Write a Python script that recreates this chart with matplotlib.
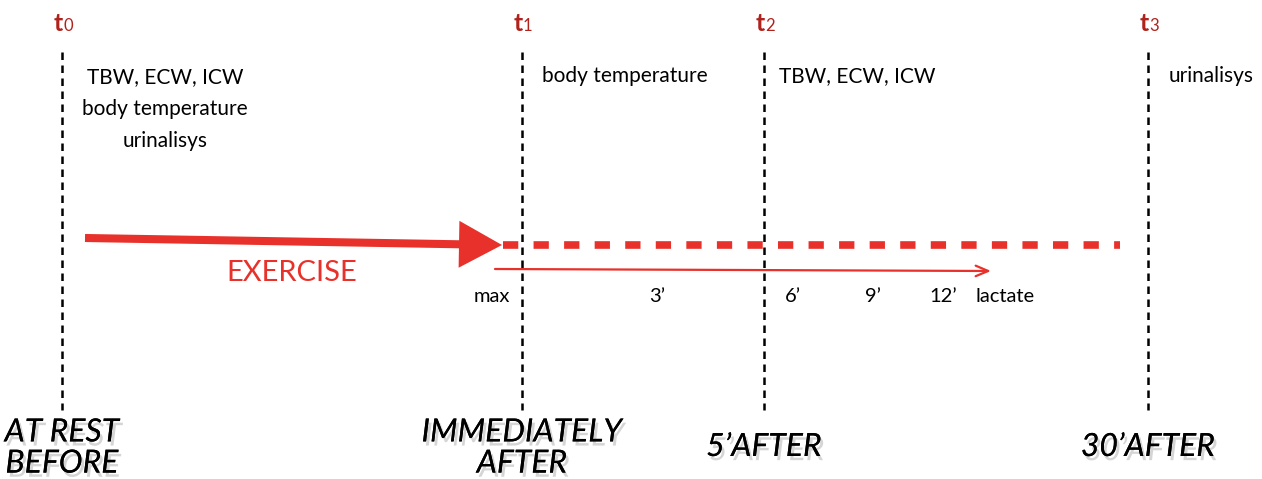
import matplotlib
matplotlib.use("Agg")
import matplotlib.pyplot as plt
import matplotlib.patheffects as pe
from matplotlib.patches import FancyArrowPatch

# ---- data ----
time_points = ["0", "1", "2", "3"]
time_x = [62, 522, 764, 1148]
bottom_labels = ["AT REST\nBEFORE", "IMMEDIATELY\nAFTER", "5\u2019AFTER", "30\u2019AFTER"]
measures = [["TBW, ECW, ICW", "body temperature", "urinalisys"],
            ["body temperature"],
            ["TBW, ECW, ICW"],
            ["urinalisys"]]
lactate_labels = ["max", "3\u2019", "6\u2019", "9\u2019", "12\u2019", "lactate"]
lactate_x = [492, 657, 793, 873, 943, 1005]

RED = "#e8312a"
DARKRED = "#b0231c"
FONT = ["Lato", "DejaVu Sans"]

fig = plt.figure(figsize=(12.62, 4.79), dpi=100)
ax = fig.add_axes([0, 0, 1, 1])
ax.set_xlim(0, 1262)
ax.set_ylim(479, 0)
ax.axis("off")

# vertical dashed lines and t labels
for x, t in zip(time_x, time_points):
    ax.plot([x, x], [52, 410], color="black", lw=1.8, dashes=(3, 2.2))
    ax.text(x + 1, 31, "t", ha="right", va="baseline", fontsize=18,
            fontweight="bold", color=DARKRED, family=FONT)
    ax.text(x + 1, 31, t, ha="left", va="baseline", fontsize=12,
            color=DARKRED, family=FONT)

# measurement texts
FS = 15
for i, line in enumerate(measures[0]):
    ax.text(165, 77 + 32 * i, line, ha="center", va="center", fontsize=FS,
            color="black", family=FONT)
ax.text(542, 76, measures[1][0], ha="left", va="center", fontsize=FS, family=FONT)
ax.text(779, 76, measures[2][0], ha="left", va="center", fontsize=FS, family=FONT)
ax.text(1169, 76, measures[3][0], ha="left", va="center", fontsize=FS, family=FONT)

# exercise arrow
arr = FancyArrowPatch((85, 238), (502, 245), arrowstyle="-|>,head_length=22,head_width=12",
                      mutation_scale=1, lw=5.8, color=RED, shrinkA=0, shrinkB=0,
                      capstyle="butt", joinstyle="miter")
ax.add_patch(arr)
ax.text(292, 273, "EXERCISE", ha="center", va="center", fontsize=21,
        color=RED, family=FONT)

# dashed recovery line
ax.plot([503, 1120], [245, 245], color=RED, lw=5.5, dashes=(2.0, 2.0),
        dash_capstyle="butt")

# lactate arrow
arr2 = FancyArrowPatch((495, 269), (991, 271), arrowstyle="->,head_length=9,head_width=3.8",
                       mutation_scale=1, lw=1.6, color=RED, shrinkA=0, shrinkB=0)
ax.add_patch(arr2)
for lbl, x in zip(lactate_labels, lactate_x):
    ax.text(x, 296, lbl, ha="center", va="center", fontsize=14.5, family=FONT)

# bottom labels with shadow
shadow = [pe.withSimplePatchShadow(offset=(2, -3), shadow_rgbFace="#777777", alpha=0.3),
          pe.Normal()]
for x, lbl in zip(time_x, bottom_labels):
    y = 448 if "\n" in lbl else 447
    t = ax.text(x, y, lbl, ha="center", va="center", fontsize=23, style="italic",
                fontweight="normal", family=FONT, linespacing=1.05, color="black")
    t.set_path_effects(shadow)

fig.savefig("out.png", dpi=100)
